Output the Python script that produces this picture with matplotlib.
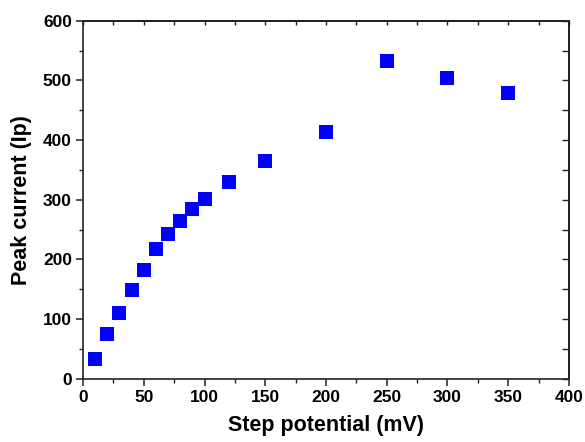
import matplotlib
matplotlib.use("Agg")
import matplotlib.pyplot as plt
from matplotlib.ticker import MultipleLocator

step_mV = [10, 20, 30, 40, 50, 60, 70, 80, 90, 100, 120, 150, 200, 250, 300, 350]
peak_current = [33, 75, 110, 148, 183, 217, 243, 265, 285, 301, 330, 365, 413, 532, 504, 479]

x_ticks = [0, 50, 100, 150, 200, 250, 300, 350, 400]
y_ticks = [0, 100, 200, 300, 400, 500, 600]

plt.rcParams['font.family'] = ['Liberation Sans', 'DejaVu Sans']
plt.rcParams['font.weight'] = 'bold'

fig = plt.figure(figsize=(5.85, 4.42), dpi=100)
ax = fig.add_axes([0.1419, 0.1432, 0.9726 - 0.1419, 0.9532 - 0.1432])

ax.plot(step_mV, peak_current, linestyle='none', marker='s', markersize=9.6,
        markeredgewidth=0, color='#0000FF', clip_on=False)

ax.set_xlim(0, 400)
ax.set_ylim(0, 600)
ax.set_xticks(x_ticks)
ax.set_yticks(y_ticks)
ax.xaxis.set_minor_locator(MultipleLocator(25))
ax.yaxis.set_minor_locator(MultipleLocator(50))

for s in ax.spines.values():
    s.set_linewidth(1.2)
    s.set_color('#222222')

ax.tick_params(which='major', direction='out', length=5, width=1.1, labelsize=12.5, color='#222222', pad=3)
ax.tick_params(which='minor', direction='out', length=3, width=1.0, color='#222222')
for lab in ax.get_xticklabels() + ax.get_yticklabels():
    lab.set_fontweight('bold')

# mirrored ticks (inside) on top and right
top = ax.secondary_xaxis('top')
top.set_xticks(x_ticks)
top.xaxis.set_minor_locator(MultipleLocator(25))
top.tick_params(which='both', direction='in', length=3, width=1.0, labeltop=False, color='#222222')
top.spines['top'].set_linewidth(1.2)
right = ax.secondary_yaxis('right')
right.set_yticks(y_ticks)
right.yaxis.set_minor_locator(MultipleLocator(50))
right.tick_params(which='both', direction='in', length=5, width=1.0, labelright=False, color='#222222')
right.spines['right'].set_linewidth(1.2)

ax.set_xlabel('Step potential (mV)', fontsize=15.5, fontweight='bold', labelpad=7)
ax.set_ylabel('Peak current (Ip)', fontsize=15.5, fontweight='bold', labelpad=8)

fig.savefig('out.png', dpi=100)
